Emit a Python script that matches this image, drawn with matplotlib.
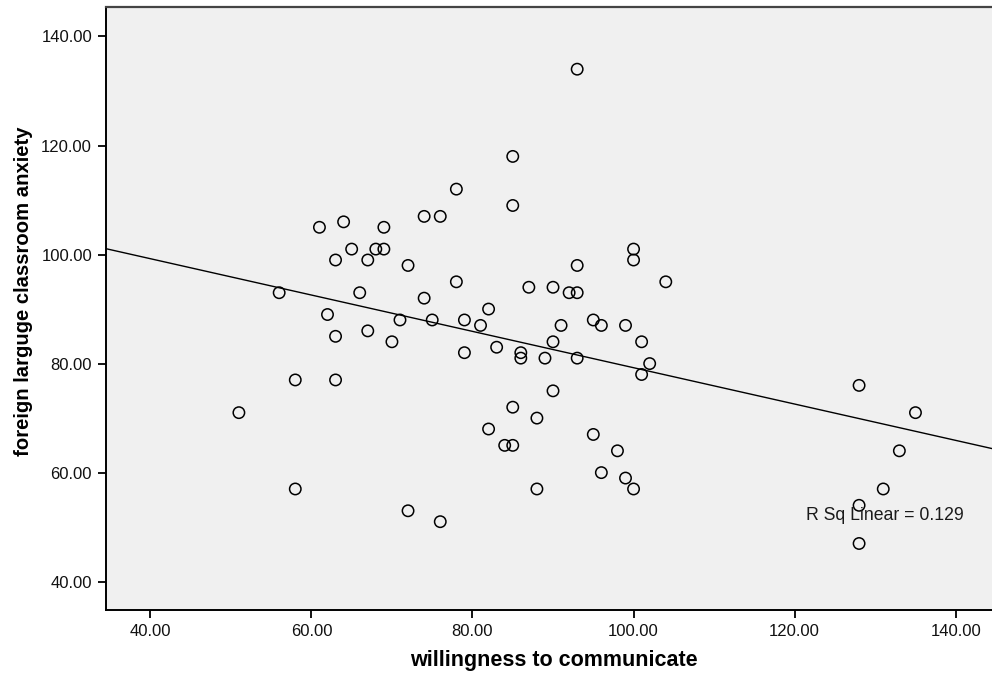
import numpy as np
import matplotlib
matplotlib.use("Agg")
import matplotlib.pyplot as plt

# willingness to communicate (x) and foreign language classroom anxiety (y)
wtc = [93, 85, 78, 85, 74, 76, 64, 61, 69, 65, 68, 69, 100, 63, 67, 100, 72, 93,
       56, 66, 92, 93, 78, 104, 87, 90, 74, 62, 82, 71, 75, 79, 95, 81, 91, 96,
       99, 67, 63, 70, 90, 101, 83, 79, 86, 86, 89, 93, 102, 101, 58, 63, 128,
       90, 85, 51, 135, 88, 82, 95, 84, 85, 98, 133, 96, 99, 58, 88, 100, 131,
       128, 72, 76, 128]
flcas = [134, 118, 112, 109, 107, 107, 106, 105, 105, 101, 101, 101, 101, 99, 99,
         99, 98, 98, 93, 93, 93, 93, 95, 95, 94, 94, 92, 89, 90, 88, 88, 88, 88,
         87, 87, 87, 87, 86, 85, 84, 84, 84, 83, 82, 82, 81, 81, 81, 80, 78, 77,
         77, 76, 75, 72, 71, 71, 70, 68, 67, 65, 65, 64, 64, 60, 59, 57, 57, 57,
         57, 54, 53, 51, 47]
x_ticks = [40, 60, 80, 100, 120, 140]
y_ticks = [40, 60, 80, 100, 120, 140]
r2_label = "R Sq Linear = 0.129"
x_title = "willingness to communicate"
y_title = "foreign larguge classroom anxiety"

plt.rcParams['font.family'] = ['Liberation Sans', 'DejaVu Sans']

W, H = 992, 675
fig = plt.figure(figsize=(W / 100, H / 100), dpi=100)
fig.patch.set_facecolor('white')
ax = fig.add_axes([106 / W, 1 - 610 / H, (994 - 106) / W, (610 - 6.5) / H])
ax.set_facecolor('#F0F0F0')

x = np.array(wtc, dtype=float)
y = np.array(flcas, dtype=float)
ax.scatter(x, y, s=8.2 ** 2, facecolors='none', edgecolors='black', linewidths=1.1, zorder=3)

xlim = (34.5, 144.75)
ylim = (34.8, 145.5)
slope, intercept = np.polyfit(x, y, 1)
xl = np.array(xlim)
ax.plot(xl, intercept + slope * xl, color='black', linewidth=1.0, zorder=2)

ax.set_xlim(*xlim)
ax.set_ylim(*ylim)
ax.set_xticks(x_ticks)
ax.set_yticks(y_ticks)
ax.set_xticklabels([f"{v:.2f}" for v in x_ticks])
ax.set_yticklabels([f"{v:.2f}" for v in y_ticks])
ax.tick_params(direction='out', length=6, width=1.3, labelsize=12, colors='black', pad=4)
for lab in ax.get_xticklabels() + ax.get_yticklabels():
    lab.set_color('#111111')

for s in ['left', 'bottom']:
    ax.spines[s].set_linewidth(1.4)
    ax.spines[s].set_color('black')
ax.spines['top'].set_linewidth(1.6)
ax.spines['top'].set_color('#444444')
ax.spines['right'].set_visible(False)

ax.text(131.2, 52.2, r2_label, ha='center', va='center', fontsize=12.7, color='#1a1a1a')

fig.text(554 / W, 1 - 660.5 / H, x_title, ha='center', va='center',
         fontsize=15.5, fontweight='bold')
fig.text(23.5 / W, 1 - 291.5 / H, y_title, ha='center', va='center', rotation=90,
         fontsize=14.6, fontweight='bold')

fig.savefig("out.png", dpi=100)
